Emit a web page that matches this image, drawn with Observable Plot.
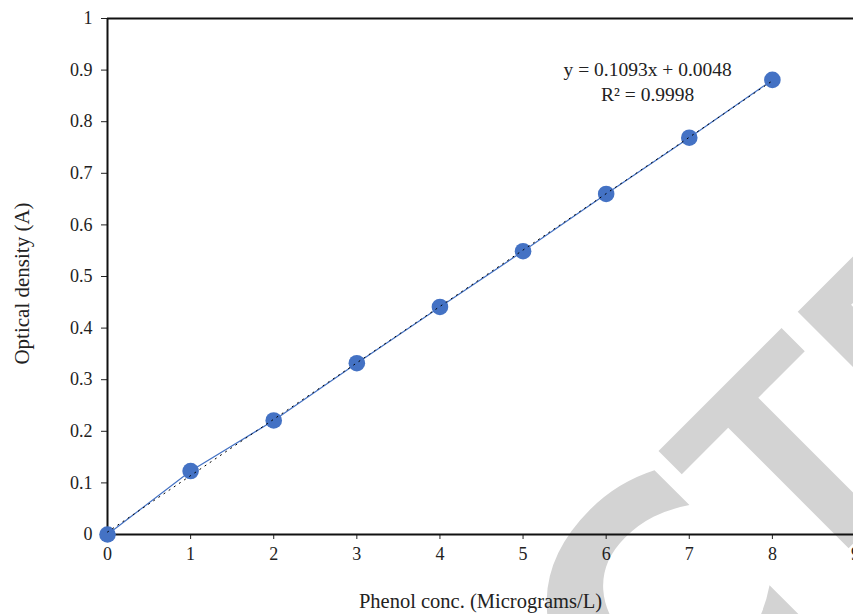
<!DOCTYPE html>
<html>
<head>
<meta charset="utf-8">
<script src="https://cdn.jsdelivr.net/npm/d3@7"></script>
<script src="https://cdn.jsdelivr.net/npm/@observablehq/plot@0.6"></script>
<style>
  html, body { margin: 0; padding: 0; background: #fff; }
  #wrap { position: relative; width: 853px; height: 614px; overflow: hidden; font-family: "Liberation Serif", "DejaVu Serif", serif; }
  #wm { position: absolute; left: 0; top: 0; }
  #chart { position: absolute; left: 0; top: 0; }
</style>
</head>
<body>
<div id="wrap">
  <svg id="wm" width="853" height="614"></svg>
  <div id="chart"></div>
</div>
<script>
// Data
const concentrations = [0, 1, 2, 3, 4, 5, 6, 7, 8];
const opticalDensity = [0, 0.123, 0.221, 0.332, 0.441, 0.549, 0.660, 0.769, 0.881];
const xTicks = [0, 1, 2, 3, 4, 5, 6, 7, 8, 9];
const yTicks = [0, 0.1, 0.2, 0.3, 0.4, 0.5, 0.6, 0.7, 0.8, 0.9, 1];
const slope = 0.1093;
const intercept = 0.0048;
const equationLines = ["y = 0.1093x + 0.0048", "R\u00B2 = 0.9998"];
const equationPos = {x: 6.5, y: 0.88};
const xLabel = "Phenol conc. (Micrograms/L)";
const yLabel = "Optical density (A)";
const watermarkParts = ["RETRAC", "TED"];

const points = concentrations.map((x, i) => ({x, y: opticalDensity[i]}));
const trend = concentrations.map(x => ({x, y: slope * x + intercept}));

// Watermark "RETRACTED" behind the chart, along a -45° baseline
const wm = document.getElementById("wm");
const ns = "http://www.w3.org/2000/svg";
const cv = document.createElement("canvas").getContext("2d");
function ink(font, ch) { cv.font = font; const m = cv.measureText(ch);
  return {L: m.actualBoundingBoxLeft, R: m.actualBoundingBoxRight, A: m.actualBoundingBoxAscent, W: m.width}; }
const g = document.createElementNS(ns, "g");
g.setAttribute("transform", "rotate(-45)");
g.setAttribute("fill", "#d3d3d3");
g.setAttribute("font-weight", "bold");
wm.appendChild(g);
{
  const famT = "Liberation Sans", famC = "DejaVu Sans";
  const mT0 = ink(`bold 300px "${famT}"`, "T");
  const ST = 300 * 180 / (mT0.L + mT0.R);
  const T = ink(`bold ${ST}px "${famT}"`, "T");
  const mC0 = ink(`bold 300px "${famC}"`, "T");
  const SC = 300 * 180 / (mC0.L + mC0.R) * 1.25;
  const C = ink(`bold ${SC}px "${famC}"`, "C");
  const t1 = document.createElementNS(ns, "text");
  t1.setAttribute("x", 131 + C.W - C.R); t1.setAttribute("y", 775 + C.A);
  t1.setAttribute("text-anchor", "end"); t1.setAttribute("font-family", famC); t1.setAttribute("font-size", SC);
  t1.textContent = watermarkParts[0];
  const t2 = document.createElementNS(ns, "text");
  t2.setAttribute("x", 143.5 + T.L); t2.setAttribute("y", 780 + T.A);
  t2.setAttribute("font-family", famT); t2.setAttribute("font-size", ST);
  t2.textContent = watermarkParts[1];
  g.appendChild(t1); g.appendChild(t2);
}

const blue = "#4472C4";
const chart = Plot.plot({
  width: 853, height: 614, marginTop: 18, marginBottom: 80, marginLeft: 107, marginRight: 0,
  style: {fontFamily: "Liberation Serif, DejaVu Serif, serif", fontSize: "18px", color: "#222", background: "transparent", overflow: "visible"},
  x: {domain: [0, 9], range: [107, 855], ticks: xTicks, tickSize: 5, tickPadding: 8, tickFormat: d => String(d), label: null},
  y: {domain: [0, 1], ticks: yTicks, tickSize: 6, tickPadding: 9, tickFormat: d => String(d), label: null},
  marks: [
    Plot.ruleY([1], {stroke: "#111", strokeWidth: 2}),
    Plot.ruleY([0], {stroke: "#111", strokeWidth: 2}),
    Plot.ruleX([0], {stroke: "#111", strokeWidth: 2}),
    Plot.line(points, {x: "x", y: "y", stroke: blue, strokeWidth: 1.2}),
    Plot.dot(points, {x: "x", y: "y", r: 8.3, fill: blue, stroke: "none"}),
    Plot.line(trend, {x: "x", y: "y", stroke: "#000", strokeWidth: 1, strokeDasharray: "1.2,5"}),
    Plot.text([equationLines.join("\n")], {x: () => equationPos.x, y: () => equationPos.y, text: d => d,
      fontSize: 19.5, lineHeight: 1.3, textAnchor: "middle", lineAnchor: "middle", fill: "#222"}),
    Plot.text([xLabel], {frameAnchor: "bottom", dy: 67, lineAnchor: "middle", fontSize: 20.5, fill: "#222"}),
    Plot.text([yLabel], {frameAnchor: "left", dx: -85, dy: 7, rotate: -90, textAnchor: "middle", lineAnchor: "middle", fontSize: 21, fill: "#222"})
  ]
});
document.getElementById("chart").appendChild(chart);
</script>
</body>
</html>
